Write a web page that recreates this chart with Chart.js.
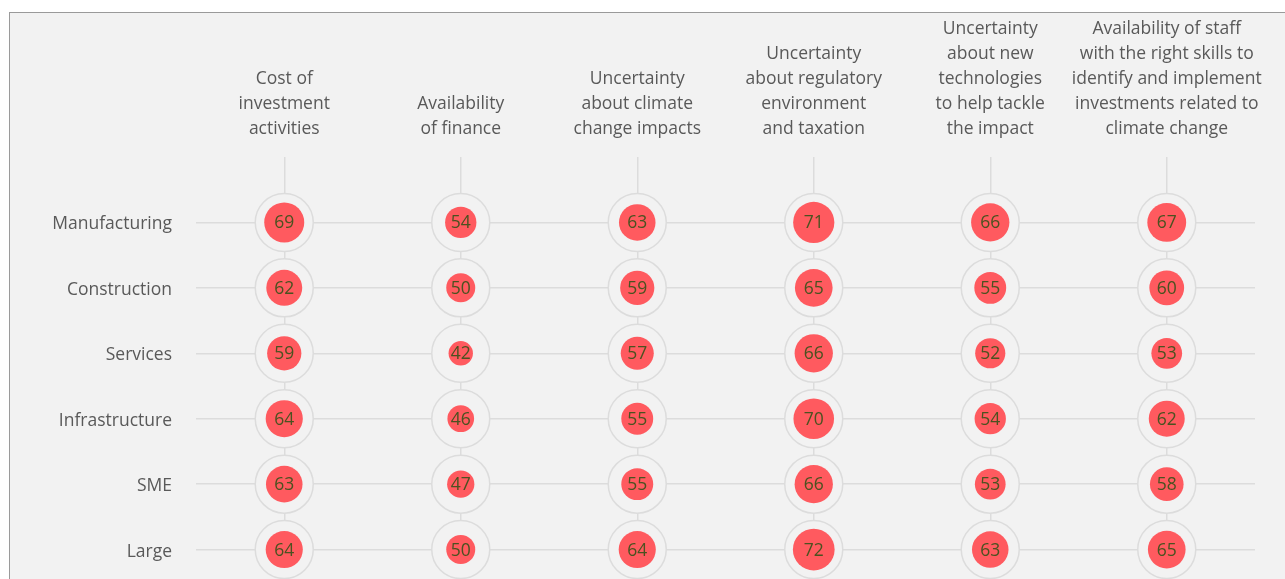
<!DOCTYPE html>
<html>
<head>
<meta charset="utf-8">
<script src="https://cdn.jsdelivr.net/npm/chart.js@4/dist/chart.umd.min.js"></script>
<style>
  html, body { margin: 0; padding: 0; background: #ffffff; width: 1285px; height: 579px; overflow: hidden; }
  #panel { position: absolute; left: 9px; top: 12px; width: 1290px; height: 600px; background: #f2f2f2; border-left: 1px solid #9a9a9a; border-top: 1px solid #9a9a9a; }
  #c { position: absolute; left: 0; top: 0; }
</style>
</head>
<body>
<div id="panel"></div>
<canvas id="c" width="1285" height="579"></canvas>
<script>
// ---- data ----
const columns = [
  ["Cost of", "investment", "activities"],
  ["Availability", "of finance"],
  ["Uncertainty", "about climate", "change impacts"],
  ["Uncertainty", "about regulatory", "environment", "and taxation"],
  ["Uncertainty", "about new", "technologies", "to help tackle", "the impact"],
  ["Availability of staff", "with the right skills to", "identify and implement", "investments related to", "climate change"]
];
const rows = ["Manufacturing", "Construction", "Services", "Infrastructure", "SME", "Large"];
// values per column, in row order
const costOfInvestment = [69, 62, 59, 64, 63, 64];
const availabilityOfFinance = [54, 50, 42, 46, 47, 50];
const climateImpacts = [63, 59, 57, 55, 55, 64];
const regulatoryEnvironment = [71, 65, 66, 70, 66, 72];
const newTechnologies = [66, 55, 52, 54, 53, 63];
const skilledStaff = [67, 60, 53, 62, 58, 65];
const series = [costOfInvestment, availabilityOfFinance, climateImpacts, regulatoryEnvironment, newTechnologies, skilledStaff];

// ---- build points ----
const points = [];
series.forEach((vals, ci) => vals.forEach((v, ri) => points.push({ x: ci, y: ri, v: v })));

const RING_R = 29;
const FONT = "'Segoe UI', 'Open Sans', 'Noto Sans', sans-serif";

const valueLabels = {
  id: 'valueLabels',
  afterDatasetsDraw(chart) {
    const ctx = chart.ctx;
    const meta = chart.getDatasetMeta(0);
    ctx.save();
    ctx.font = '17.5px ' + FONT;
    ctx.fillStyle = '#4b5220';
    ctx.textAlign = 'center';
    ctx.textBaseline = 'middle';
    meta.data.forEach((el, i) => {
      ctx.fillText(String(points[i].v), el.x, el.y + 1);
    });
    ctx.restore();
  }
};

new Chart(document.getElementById('c'), {
  type: 'bubble',
  data: {
    datasets: [
      {
        data: points,
        backgroundColor: '#ff5a5f',
        borderWidth: 0,
        radius: ctx => ctx.raw ? RING_R * ctx.raw.v / 100 : 0,
        hoverRadius: 0,
        clip: false
      },
      {
        data: points,
        backgroundColor: '#f2f2f2',
        borderColor: '#dcdcdc',
        borderWidth: 1.5,
        radius: RING_R,
        hoverRadius: 0,
        clip: false
      }
    ]
  },
  options: {
    responsive: false,
    devicePixelRatio: 1,
    animation: false,
    events: [],
    layout: { autoPadding: false, padding: { left: 0, right: 30, top: 0, bottom: 0 } },
    plugins: { legend: { display: false }, tooltip: { enabled: false } },
    scales: {
      x: {
        type: 'linear',
        position: 'top',
        min: -0.5,
        max: 5.5,
        afterBuildTicks: s => { s.ticks = columns.map((_, i) => ({ value: i })); },
        afterFit: s => { s.height = 157; s.paddingLeft = 0; s.paddingRight = 0; },
        border: { display: false },
        grid: { color: '#dcdcdc', lineWidth: 1.5, drawTicks: false },
        ticks: {
          autoSkip: false,
          maxRotation: 0,
          padding: 15,
          color: '#595959',
          font: { family: FONT, size: 17.5, lineHeight: 1.43 },
          callback: v => columns[v]
        }
      },
      y: {
        type: 'linear',
        reverse: true,
        min: -1,
        max: 5.45,
        afterBuildTicks: s => { s.ticks = rows.map((_, i) => ({ value: i })); },
        afterFit: s => { s.width = 196; s.paddingTop = 0; s.paddingBottom = 0; },
        border: { display: false },
        grid: { color: '#dcdcdc', lineWidth: 1.5, drawTicks: false },
        ticks: {
          autoSkip: false,
          padding: 24,
          labelOffset: 2,
          color: '#595959',
          font: { family: FONT, size: 17.5 },
          callback: v => rows[v]
        }
      }
    }
  },
  plugins: [valueLabels]
});
</script>
</body>
</html>
